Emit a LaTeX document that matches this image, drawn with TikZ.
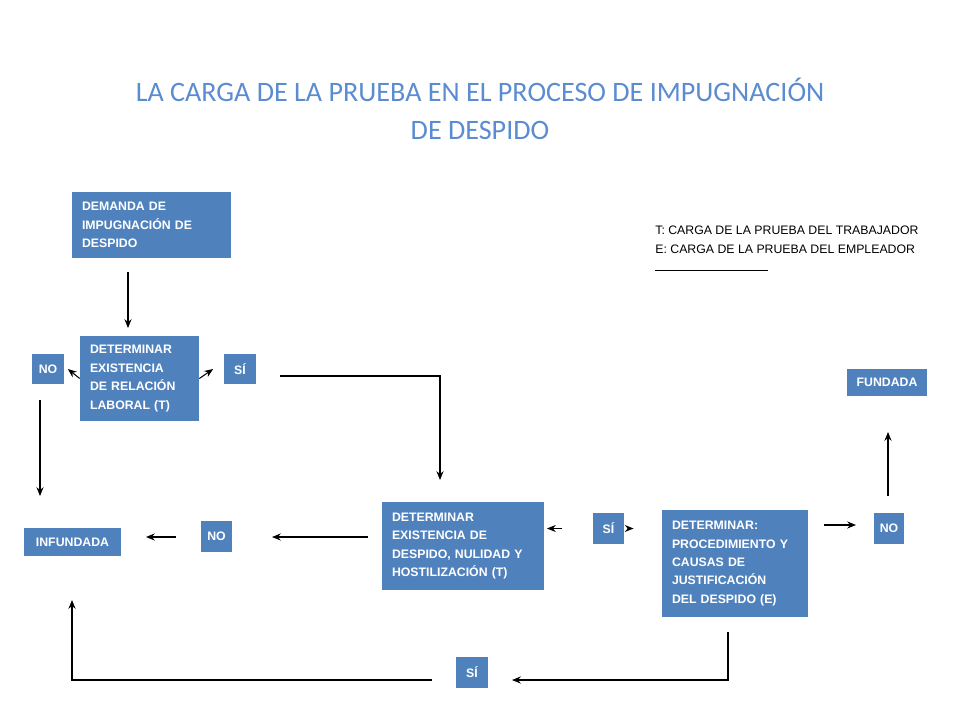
\documentclass[tikz,border=0pt]{standalone}
\usepackage{fontspec}
\setmainfont{Liberation Sans}
\newfontfamily\titlefont{Carlito}
\usetikzlibrary{positioning,arrows.meta}
\definecolor{boxblue}{HTML}{4F81BD}
\definecolor{titleblue}{HTML}{5B8BD0}

\begin{document}
\begin{tikzpicture}[x=0.02cm, y=-0.02cm,
    box/.style={fill=boxblue, text=white, font=\fontsize{7}{10.5}\selectfont\bfseries,
      align=left, inner xsep=0.2cm, inner ysep=0pt},
    tag/.style={fill=boxblue, text=white, font=\fontsize{7}{9}\selectfont\bfseries,
      align=center, inner sep=0pt, minimum width=0.64cm, minimum height=0.6cm},
    arr/.style={-{Stealth[length=5pt,width=4pt]}, line width=0.6pt}]
    \useasboundingbox (0,0) rectangle (960,720);

    % title
    \node (title) [text=titleblue, font=\titlefont\fontsize{16}{21.5}\selectfont, align=center]
      at (480,109) {LA CARGA DE LA PRUEBA EN EL PROCESO DE IMPUGNACIÓN\\DE DESPIDO};

    % legend
    \node (legend) [anchor=north west, align=left, inner sep=0pt,
      font=\fontsize{7}{10.8}\selectfont] at (655,226)
      {T: CARGA DE LA PRUEBA DEL TRABAJADOR\\E: CARGA DE LA PRUEBA DEL EMPLEADOR};
    \draw [line width=0.4pt] (655,270) -- (768,270);

    % boxes
    \node (demanda) [box, minimum width=3.18cm, minimum height=1.32cm, text width=2.78cm]
      at (151.5,225) {DEMANDA DE\\IMPUGNACIÓN DE\\DESPIDO};
    \node (relacion) [box, minimum width=2.38cm, minimum height=1.7cm, text width=1.98cm]
      at (139.5,378.5) {DETERMINAR\\EXISTENCIA\\DE RELACIÓN\\LABORAL (T)};
    \node (existencia) [box, minimum width=3.24cm, minimum height=1.76cm, text width=2.84cm]
      at (463,546) {DETERMINAR\\EXISTENCIA DE\\DESPIDO, NULIDAD Y\\HOSTILIZACIÓN (T)};
    \node (proced) [box, minimum width=2.92cm, minimum height=2.14cm, text width=2.52cm]
      at (735,563.5) {DETERMINAR:\\PROCEDIMIENTO Y\\CAUSAS DE\\JUSTIFICACIÓN\\DEL DESPIDO (E)};

    \node (noA) [tag] at (48,369) {NO};
    \node (siA) [tag] at (240,369) {SÍ};
    \node (noB) [tag, minimum width=0.62cm, minimum height=0.62cm] at (216.5,536.5) {NO};
    \node (siB) [tag, minimum width=0.62cm, minimum height=0.62cm] at (608.5,528.5) {SÍ};
    \node (noC) [tag, minimum width=0.6cm, minimum height=0.62cm] at (889,528.5) {NO};
    \node (siC) [tag, minimum width=0.64cm, minimum height=0.62cm] at (472,672.5) {SÍ};
    \node (fundada) [tag, minimum width=1.6cm, minimum height=0.54cm] at (887,382.5) {FUNDADA};
    \node (infundada) [tag, minimum width=1.94cm, minimum height=0.56cm] at (72.5,542) {INFUNDADA};

    % connectors
    \coordinate (c1) at (128,272);
    \coordinate (c2) at (128,328);
    \draw [arr] (c1) -- (c2);
    \draw [arr] (relacion.west) -- ([xshift=2]noA.east);
    \draw [arr] (relacion.east) -- ([xshift=-6]siA.west);

    \coordinate (s1) at (280,376);
    \coordinate (s2) at (440,480);
    \draw [arr] (s1) -| (s2);
    \coordinate (n1) at (40,400);
    \coordinate (n2) at (40,496);
    \draw [arr] (n1) -- (n2);

    \coordinate (e1) at (368,537);
    \coordinate (e2) at (272,537);
    \draw [arr] (e1) -- (e2);
    \coordinate (f1) at (176,537);
    \coordinate (f2) at (146,537);
    \draw [arr] (f1) -- (f2);

    \draw [arr] ([xshift=10]existencia.east |- siB) -- ([xshift=-26]siB.west);
    \draw [arr] ([xshift=4]siB.east) -- ([xshift=-16]proced.west |- siB);

    \coordinate (p1) at (824,525);
    \coordinate (p2) at (856,525);
    \draw [arr] (p1) -- (p2);
    \coordinate (u1) at (888,496);
    \coordinate (u2) at (888,432);
    \draw [arr] (u1) -- (u2);

    \coordinate (b1) at (728,632);
    \coordinate (b2) at (512,680);
    \draw [arr] (b1) |- (b2);
    \coordinate (g1) at (432,680);
    \coordinate (g2) at (72,600);
    \draw [arr] (g1) -| (g2);
\end{tikzpicture}
\end{document}
